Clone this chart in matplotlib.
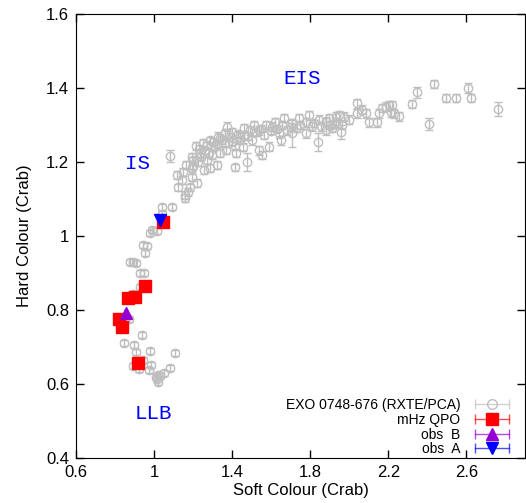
import matplotlib
matplotlib.use('Agg')
import matplotlib.pyplot as plt
from matplotlib.lines import Line2D
from matplotlib.legend_handler import HandlerLine2D
from matplotlib.ticker import FormatStrFormatter

plt.rcParams['font.family'] = ['Liberation Sans', 'DejaVu Sans']

# EXO 0748-676 colour-colour points (soft, hard, error on hard)
soft = [0.871, 0.937, 0.845, 0.896, 0.907, 0.978, 1.106, 0.891, 0.922, 0.942,
        0.983, 0.973, 1.080, 1.050, 1.019, 1.009, 1.014, 1.019, 1.029, 0.891,
        0.927, 0.927, 0.947, 0.876, 0.891, 0.907, 0.942, 0.963, 0.952, 0.978,
        1.014, 1.039, 1.039, 1.090, 0.988,
        1.080, 1.116, 1.147, 1.142, 1.121, 1.157, 1.193, 1.193, 1.218, 1.182,
        1.172, 1.198, 1.233, 1.193, 1.285, 1.320, 1.269, 1.336, 1.371, 1.412,
        1.474, 1.422, 1.453, 1.157, 1.213, 1.249, 1.285, 1.310, 1.336, 1.361,
        1.387, 1.438, 1.412, 1.463, 1.259, 1.295, 1.223, 1.162, 1.254,
        1.540, 1.555, 1.591, 1.841, 1.709, 1.438, 1.489, 1.540, 1.606, 1.657,
        1.709, 1.780, 1.846, 1.898, 1.933, 1.504, 1.642, 1.780, 1.882, 1.514,
        1.565, 1.617, 1.683, 1.734, 1.811, 1.744, 1.463, 1.575, 1.668, 1.795,
        1.857, 1.923, 1.652, 1.397, 1.361, 1.325, 1.376,
        1.933, 1.959, 1.974, 2.000, 2.041, 2.041, 2.066, 2.087, 2.102, 2.143,
        2.153, 2.168, 2.189, 2.204, 2.219, 2.214, 2.230, 2.255, 2.322, 2.347,
        2.408, 2.434, 2.495, 2.546, 2.608, 2.623, 2.761, 1.949, 1.964, 1.913,
        1.230, 1.270, 1.300, 1.320, 1.350, 1.400, 1.430, 1.480, 1.520, 1.550,
        1.600, 1.630, 1.700, 1.750, 1.820, 1.880, 1.900, 1.240, 1.280, 1.200]
hard = [0.776, 0.732, 0.711, 0.705, 0.686, 0.689, 0.684, 0.649, 0.641, 0.665,
        0.651, 0.638, 0.643, 0.630, 0.624, 0.619, 0.614, 0.605, 0.622, 0.843,
        0.862, 0.900, 0.900, 0.930, 0.930, 0.927, 0.976, 0.973, 0.954, 1.008,
        1.014, 1.059, 1.078, 1.078, 1.016,
        1.216, 1.165, 1.173, 1.151, 1.132, 1.111, 1.184, 1.159, 1.143, 1.132,
        1.119, 1.205, 1.224, 1.214, 1.184, 1.192, 1.205, 1.224, 1.232, 1.186,
        1.200, 1.224, 1.241, 1.103, 1.243, 1.251, 1.259, 1.243, 1.265, 1.251,
        1.268, 1.259, 1.243, 1.273, 1.232, 1.219, 1.200, 1.192, 1.178,
        1.232, 1.219, 1.241, 1.254, 1.278, 1.268, 1.286, 1.286, 1.295, 1.300,
        1.305, 1.308, 1.314, 1.319, 1.322, 1.259, 1.278, 1.278, 1.286, 1.300,
        1.273, 1.308, 1.286, 1.292, 1.297, 1.319, 1.292, 1.300, 1.319, 1.327,
        1.297, 1.303, 1.259, 1.281, 1.278, 1.268, 1.295,
        1.308, 1.281, 1.322, 1.314, 1.359, 1.332, 1.341, 1.332, 1.308, 1.308,
        1.332, 1.346, 1.349, 1.354, 1.354, 1.335, 1.332, 1.324, 1.357, 1.389,
        1.303, 1.411, 1.373, 1.373, 1.400, 1.373, 1.343, 1.327, 1.300, 1.292,
        1.235, 1.245, 1.255, 1.250, 1.260, 1.255, 1.275, 1.270, 1.280, 1.290,
        1.285, 1.290, 1.295, 1.300, 1.305, 1.310, 1.300, 1.215, 1.225, 1.190]
hard_err = [0.008] * 35 + \
    [0.017] + [0.010] * 19 + [0.024] + [0.010] * 18 + \
    [0.012, 0.012, 0.012, 0.024, 0.036] + [0.012] * 32 + \
    [0.012, 0.020] + [0.012] * 17 + [0.015, 0.016, 0.012, 0.010, 0.012,
                                     0.014, 0.012, 0.019, 0.012, 0.012, 0.012] + \
    [0.010] * 20

# mHz QPO detections
qpo_soft = [0.820, 0.835, 0.866, 0.901, 0.952, 0.917, 1.044]
qpo_hard = [0.776, 0.754, 0.832, 0.835, 0.865, 0.657, 1.038]

# individual observations
obsB_soft, obsB_hard = [0.855], [0.792]
obsA_soft, obsA_hard = [1.029], [1.043]

# state labels
state_names = ['EIS', 'IS', 'LLB']
state_x = [1.76, 0.917, 0.998]
state_y = [1.427, 1.197, 0.519]

grey = '#bebebe'
red = '#ff0000'
violet = '#9400d3'
blue = '#0000ff'

fig = plt.figure(figsize=(5.26, 5.03), dpi=100)
ax = fig.add_axes([0.1445, 0.0895, 0.8535, 0.8825])

ax.errorbar(soft, hard, yerr=hard_err, fmt='o', mfc='none', mec=grey,
            ecolor=grey, ms=6, mew=1.0, elinewidth=1.0, capsize=3, zorder=2)
ax.plot(qpo_soft, qpo_hard, 's', color=red, ms=8, zorder=3)
ax.plot(obsB_soft, obsB_hard, '^', color=violet, ms=8, zorder=4)
ax.plot(obsA_soft, obsA_hard, 'v', color=blue, ms=8, zorder=4)

for name, x, y in zip(state_names, state_x, state_y):
    ax.text(x, y, name, color=blue, family='Liberation Mono', fontsize=15,
            ha='center', va='center')

ax.set_xlim(0.6, 2.9)
ax.set_ylim(0.4, 1.6)
ax.set_xticks([0.6, 1.0, 1.4, 1.8, 2.2, 2.6])
ax.set_yticks([0.4, 0.6, 0.8, 1.0, 1.2, 1.4, 1.6])
ax.xaxis.set_major_formatter(FormatStrFormatter('%g'))
ax.yaxis.set_major_formatter(FormatStrFormatter('%g'))
ax.tick_params(direction='in', top=True, right=True, length=6, width=1,
               labelsize=12, pad=5)
ax.set_xlabel('Soft Colour (Crab)', fontsize=12, labelpad=2)
ax.set_ylabel('Hard Colour (Crab)', fontsize=12, labelpad=10)

# gnuplot-like legend: horizontal error bar sample with caps, marker in middle
handles = []
handler_map = {}
for col, mk, face in [(grey, 'o', 'none'), (red, 's', red),
                      (violet, '^', violet), (blue, 'v', blue)]:
    caps = Line2D([], [], color=col, lw=1, marker='|', ms=7, alpha=0.7)
    mark = Line2D([], [], color=col, marker=mk, mfc=face, ms=7 if mk == 'o' else 9,
                  linestyle='none')
    handler_map[caps] = HandlerLine2D(numpoints=2)
    handler_map[mark] = HandlerLine2D(numpoints=1)
    handles.append((caps, mark))
labels = ['EXO 0748-676 (RXTE/PCA)', 'mHz QPO', 'obs  B', 'obs  A']
ax.legend(handles, labels, handler_map=handler_map, loc='lower right',
          bbox_to_anchor=(0.995, -0.018), frameon=False, markerfirst=False,
          fontsize=10, handlelength=3.0, handletextpad=0.8, labelspacing=0.05,
          borderaxespad=0.3)

fig.savefig('out.png', dpi=100)
